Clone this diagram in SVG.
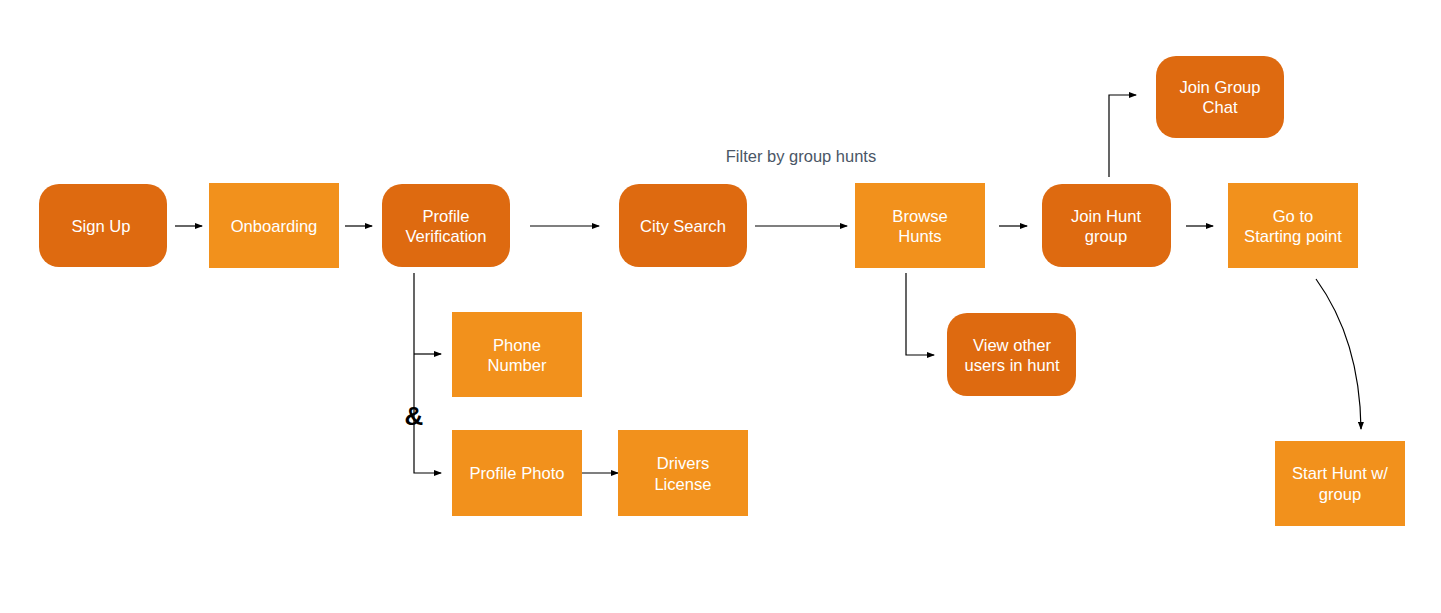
<svg xmlns="http://www.w3.org/2000/svg" width="1441" height="613" viewBox="0 0 1441 613">
<style>
.dark{fill:#DE6A10}
.light{fill:#F2911C}
.t{font-family:"Liberation Sans",Arial,sans-serif;font-size:16.6px;fill:#ffffff;text-anchor:middle;dominant-baseline:central}
.c{fill:none;stroke:#000;stroke-width:1.2}
.lbl{font-family:"Liberation Sans",Arial,sans-serif;font-size:16.5px;fill:#4a5666;text-anchor:middle}
.amp{font-family:"Liberation Sans",Arial,sans-serif;font-size:26px;font-weight:bold;fill:#000;text-anchor:middle;dominant-baseline:central}
</style>
<defs>
<marker id="ah" markerWidth="8" markerHeight="6" refX="7" refY="3" orient="auto" markerUnits="userSpaceOnUse">
<path d="M0,0 L8,3 L0,6 Z" fill="#000"/>
</marker>
</defs>
<rect width="1441" height="613" fill="#ffffff"/>
<g id="connectors">
<line class="c" x1="175" y1="226" x2="202" y2="226" marker-end="url(#ah)"/>
<line class="c" x1="345" y1="226" x2="372" y2="226" marker-end="url(#ah)"/>
<line class="c" x1="530" y1="226" x2="599" y2="226" marker-end="url(#ah)"/>
<line class="c" x1="755" y1="226" x2="847" y2="226" marker-end="url(#ah)"/>
<line class="c" x1="999" y1="226" x2="1027" y2="226" marker-end="url(#ah)"/>
<line class="c" x1="1186" y1="226" x2="1213" y2="226" marker-end="url(#ah)"/>
<polyline class="c" points="1109,177 1109,95 1136,95" marker-end="url(#ah)"/>
<polyline class="c" points="414,273 414,473 441,473" marker-end="url(#ah)"/>
<polyline class="c" points="414,354 441,354" marker-end="url(#ah)"/>
<line class="c" x1="582" y1="473" x2="618" y2="473" marker-end="url(#ah)"/>
<polyline class="c" points="906,273 906,355 934,355" marker-end="url(#ah)"/>
<path class="c" d="M1316,279 Q1360,340 1361,429" stroke-width="1" marker-end="url(#ah)"/>
<text class="lbl" x="801" y="162">Filter by group hunts</text>
<text class="amp" x="414" y="416">&amp;</text>
</g>
<g id="signup"><rect class="dark" x="39" y="184" width="128" height="83" rx="20"/><text class="t" x="101" y="226">Sign Up</text></g>
<g id="onboarding"><rect class="light" x="209" y="183" width="130" height="85"/><text class="t" x="274" y="226">Onboarding</text></g>
<g id="profileverification"><rect class="dark" x="382" y="184" width="128" height="83" rx="20"/><text class="t" x="446" y="216">Profile</text><text class="t" x="446" y="236">Verification</text></g>
<g id="citysearch"><rect class="dark" x="619" y="184" width="128" height="83" rx="20"/><text class="t" x="683" y="226">City Search</text></g>
<g id="browsehunts"><rect class="light" x="855" y="183" width="130" height="85"/><text class="t" x="920" y="216">Browse</text><text class="t" x="920" y="236">Hunts</text></g>
<g id="joinhunt"><rect class="dark" x="1042" y="184" width="129" height="83" rx="20"/><text class="t" x="1106" y="216">Join Hunt</text><text class="t" x="1106" y="236">group</text></g>
<g id="gotostart"><rect class="light" x="1228" y="183" width="130" height="85"/><text class="t" x="1293" y="216">Go to</text><text class="t" x="1293" y="236">Starting point</text></g>
<g id="joinchat"><rect class="dark" x="1156" y="56" width="128" height="82" rx="20"/><text class="t" x="1220" y="87">Join Group</text><text class="t" x="1220" y="107">Chat</text></g>
<g id="phonenumber"><rect class="light" x="452" y="312" width="130" height="85"/><text class="t" x="517" y="345">Phone</text><text class="t" x="517" y="365">Number</text></g>
<g id="profilephoto"><rect class="light" x="452" y="430" width="130" height="86"/><text class="t" x="517" y="473">Profile Photo</text></g>
<g id="driverslicense"><rect class="light" x="618" y="430" width="130" height="86"/><text class="t" x="683" y="463">Drivers</text><text class="t" x="683" y="484">License</text></g>
<g id="viewusers"><rect class="dark" x="947" y="313" width="129" height="83" rx="20"/><text class="t" x="1012" y="345">View other</text><text class="t" x="1012" y="365">users in hunt</text></g>
<g id="starthunt"><rect class="light" x="1275" y="441" width="130" height="85"/><text class="t" x="1340" y="473">Start Hunt w/</text><text class="t" x="1340" y="494">group</text></g>
</svg>
